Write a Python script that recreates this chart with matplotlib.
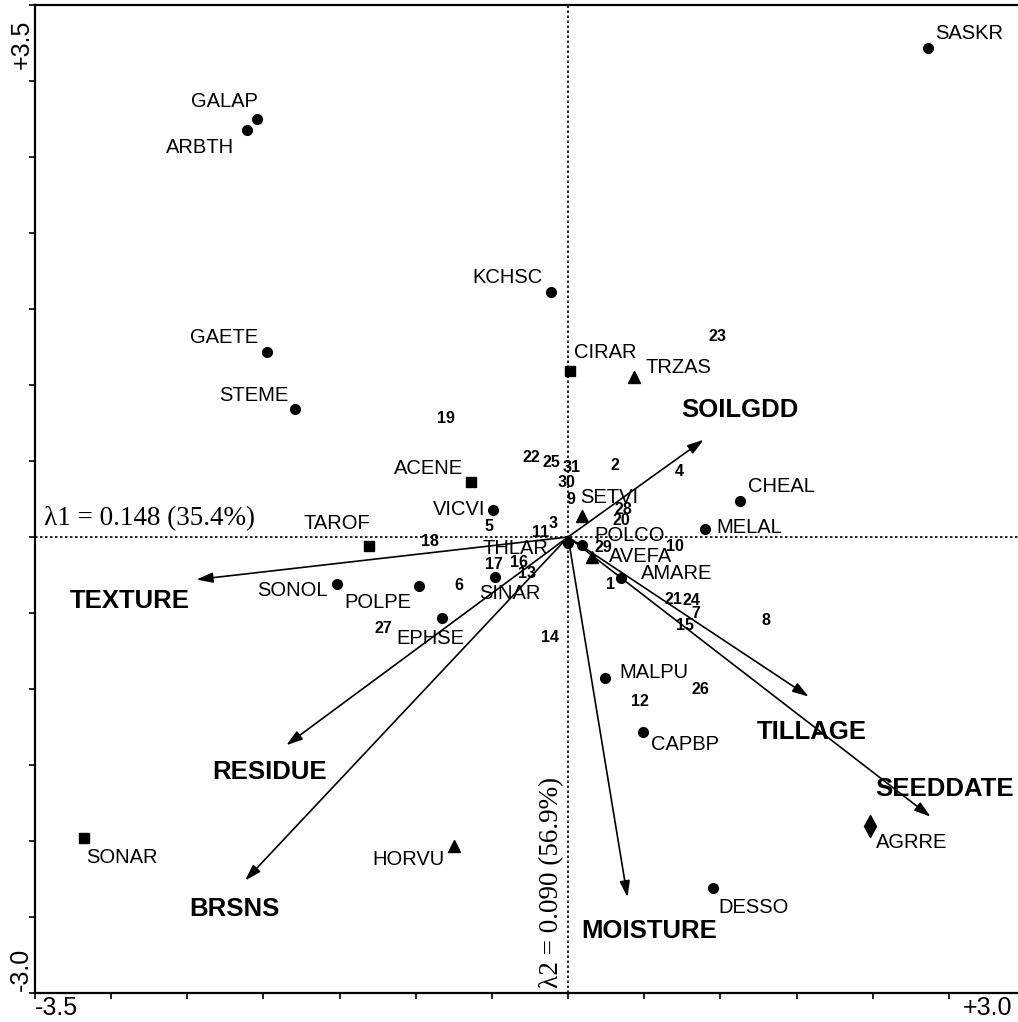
import numpy as np
import matplotlib
matplotlib.use('Agg')
import matplotlib.pyplot as plt

plt.rcParams['font.family'] = ['Liberation Sans', 'DejaVu Sans']

# species scores, grouped by the symbol used in the plot
circ_names = ['SASKR', 'GALAP', 'ARBTH', 'KCHSC', 'GAETE', 'STEME', 'VICVI', 'CHEAL',
              'MELAL', 'POLCO', 'THLAR', 'AMARE', 'SONOL', 'POLPE', 'SINAR', 'EPHSE',
              'MALPU', 'CAPBP', 'DESSO']
circ_x = [2.36, -2.04, -2.11, -0.11, -1.98, -1.79, -0.49, 1.13,
          0.90, 0.09, 0.00, 0.35, -1.52, -0.98, -0.48, -0.83,
          0.24, 0.49, 0.95]
circ_y = [3.22, 2.75, 2.68, 1.61, 1.22, 0.84, 0.18, 0.24,
          0.05, -0.05, -0.04, -0.27, -0.31, -0.32, -0.26, -0.53,
          -0.93, -1.28, -2.31]

sq_names = ['CIRAR', 'ACENE', 'TAROF', 'SONAR']
sq_x = [0.01, -0.64, -1.31, -3.18]
sq_y = [1.09, 0.36, -0.06, -1.98]

tri_names = ['TRZAS', 'SETVI', 'AVEFA', 'HORVU']
tri_x = [0.43, 0.09, 0.16, -0.75]
tri_y = [1.05, 0.14, -0.13, -2.03]

dia_names = ['AGRRE']
dia_x = [1.98]
dia_y = [-1.90]

# sample (site) scores
site_ids = ['23', '19', '22', '25', '31', '2', '4', '30', '9', '28', '20', '5', '3', '11',
            '18', '10', '29', '17', '16', '13', '6', '1', '21', '24', '7', '15', '8',
            '27', '14', '12', '26']
site_x = [0.98, -0.80, -0.24, -0.11, 0.02, 0.31, 0.73, -0.01, 0.02, 0.36, 0.35, -0.52, -0.10, -0.18,
          -0.91, 0.70, 0.23, -0.49, -0.32, -0.27, -0.72, 0.28, 0.69, 0.81, 0.84, 0.77, 1.30,
          -1.21, -0.12, 0.47, 0.87]
site_y = [1.32, 0.78, 0.52, 0.49, 0.46, 0.47, 0.43, 0.36, 0.25, 0.18, 0.11, 0.07, 0.09, 0.03,
          -0.03, -0.06, -0.07, -0.18, -0.17, -0.24, -0.32, -0.31, -0.41, -0.42, -0.50, -0.58, -0.55,
          -0.60, -0.66, -1.08, -1.00]

# environmental variable arrows (heads)
env_names = ['SOILGDD', 'TEXTURE', 'TILLAGE', 'SEEDDATE', 'MOISTURE', 'RESIDUE', 'BRSNS']
env_x = [0.89, -2.44, 1.58, 2.38, 0.39, -1.85, -2.12]
env_y = [0.64, -0.28, -1.05, -1.84, -2.37, -1.37, -2.26]

# label placement (pixel offsets from the point, horizontal alignment)
sp_off = {
    'SASKR': (8, 14, 'left'), 'GALAP': (1, 18, 'right'), 'ARBTH': (-13, -18, 'right'),
    'KCHSC': (-9, 15, 'right'), 'GAETE': (-8, 14, 'right'), 'STEME': (-7, 14, 'right'),
    'VICVI': (-8, 0, 'right'), 'CHEAL': (8, 14, 'left'), 'MELAL': (11, 2, 'left'),
    'POLCO': (13, 9, 'left'), 'THLAR': (-20, -5, 'right'), 'AMARE': (20, 5, 'left'),
    'SONOL': (-9, -6, 'right'), 'POLPE': (-7, -17, 'right'), 'SINAR': (-16, -17, 'left'),
    'EPHSE': (-11, -21, 'center'), 'MALPU': (15, 6, 'left'), 'CAPBP': (8, -13, 'left'),
    'DESSO': (6, -19, 'left'), 'CIRAR': (4, 19, 'left'), 'ACENE': (-8, 14, 'right'),
    'TAROF': (2, 23, 'right'), 'SONAR': (2, -20, 'left'), 'TRZAS': (12, 10, 'left'),
    'SETVI': (-2, 18, 'left'), 'AVEFA': (17, 0, 'left'), 'HORVU': (-9, -14, 'right'),
    'AGRRE': (6, -17, 'left'),
}
env_off = {
    'SOILGDD': (-22, 30, 'left'), 'TEXTURE': (-67, -21, 'center'),
    'TILLAGE': (3, -35, 'center'), 'SEEDDATE': (14, 28, 'center'),
    'MOISTURE': (22, -34, 'center'), 'RESIDUE': (-17, -27, 'center'),
    'BRSNS': (-11, -28, 'center'),
}

W, H = 1018, 1022
fig = plt.figure(figsize=(W / 100, H / 100), dpi=100)
ax = fig.add_axes([35 / W, 1 - 993 / H, 990 / W, 988 / H])
ax.set_xlim(-3.5, 3.0)
ax.set_ylim(-3.0, 3.5)

for s in ['left', 'top', 'bottom']:
    ax.spines[s].set_linewidth(1.6)
ax.spines['right'].set_visible(False)
ax.set_xticks(np.arange(-3.5, 3.01, 0.5))
ax.set_yticks(np.arange(-3.0, 3.51, 0.5))
ax.tick_params(direction='out', length=4, width=1.2, labelbottom=False, labelleft=False)

# zero lines
ax.axhline(0, color='black', lw=1.2, ls=(0, (1.5, 1.5)), zorder=1)
ax.axvline(0, color='black', lw=1.2, ls=(0, (1.5, 1.5)), zorder=1)

# arrows
for name, x, y in zip(env_names, env_x, env_y):
    ax.annotate('', xy=(x, y), xytext=(0, 0),
                arrowprops=dict(arrowstyle='-|>,head_length=0.7,head_width=0.22',
                                color='black', lw=1.2,
                                mutation_scale=14, shrinkA=0, shrinkB=0), zorder=2)
    dx, dy, ha = env_off[name]
    ax.annotate(name, (x, y), xytext=(dx, dy), textcoords='offset pixels',
                ha=ha, va='center', fontsize=18.5, fontweight='bold')

# species symbols
ax.plot(circ_x, circ_y, 'o', color='black', ms=7, ls='none', zorder=3)
ax.plot(sq_x, sq_y, 's', color='black', ms=7.5, ls='none', zorder=3)
ax.plot(tri_x, tri_y, '^', color='black', ms=9, ls='none', zorder=3)
ax.plot(dia_x, dia_y, 'd', color='black', ms=11, ls='none', zorder=3)

for names, xs, ys in [(circ_names, circ_x, circ_y), (sq_names, sq_x, sq_y),
                      (tri_names, tri_x, tri_y), (dia_names, dia_x, dia_y)]:
    for name, x, y in zip(names, xs, ys):
        dx, dy, ha = sp_off[name]
        ax.annotate(name, (x, y), xytext=(dx, dy), textcoords='offset pixels',
                    ha=ha, va='center', fontsize=14.5)

# sites
for sid, x, y in zip(site_ids, site_x, site_y):
    ax.text(x, y, sid, ha='center', va='center', fontsize=11.5, fontweight='bold')

# eigenvalue labels
ax.text(-3.44, 0.04, '\u03bb1 = 0.148 (35.4%)', family='Liberation Serif',
        fontsize=19.5, ha='left', va='bottom')
ax.text(-0.11, -2.97, '\u03bb2 = 0.090 (56.9%)', family='Liberation Serif',
        fontsize=19.5, rotation=90, ha='center', va='bottom')

# axis end labels
fig.text(35 / W, 1 - 1008 / H, '-3.5', fontsize=18, ha='left', va='center')
fig.text(1012 / W, 1 - 1008 / H, '+3.0', fontsize=18, ha='right', va='center')
fig.text(22 / W, 1 - 20 / H, '+3.5', fontsize=18, rotation=90, ha='center', va='top')
fig.text(21 / W, 1 - 991 / H, '-3.0', fontsize=18, rotation=90, ha='center', va='bottom')

fig.savefig('out.png', dpi=100)
